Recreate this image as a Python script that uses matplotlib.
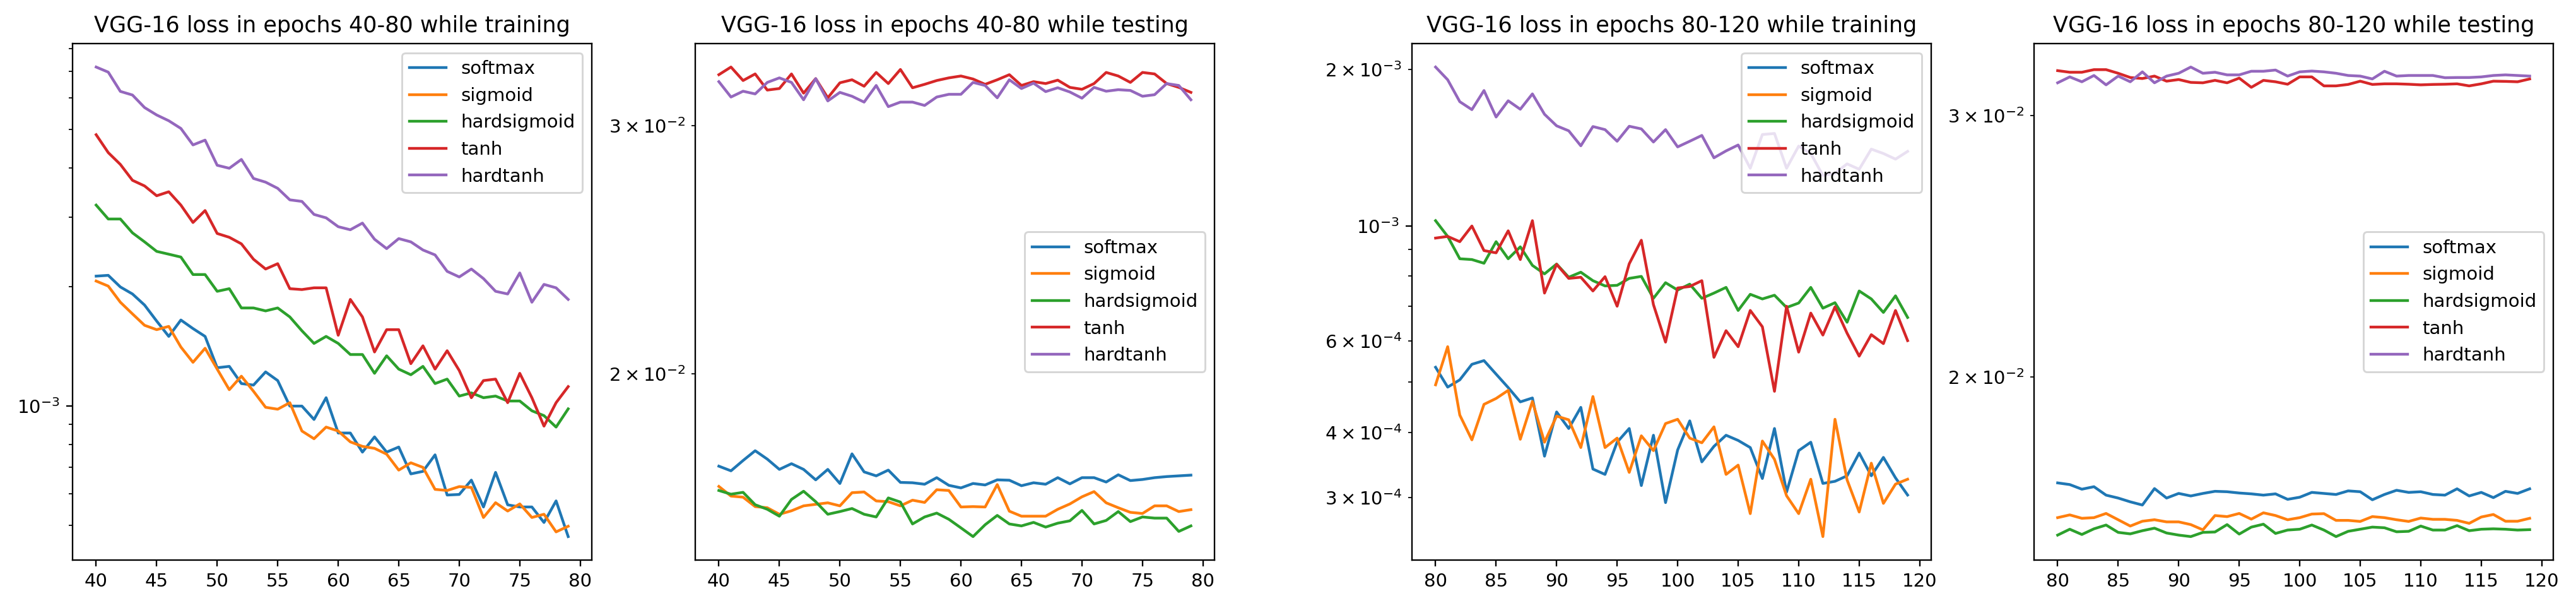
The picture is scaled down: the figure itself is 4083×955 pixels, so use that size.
import numpy as np
import matplotlib
matplotlib.use("Agg")
import matplotlib.pyplot as plt

labels = ["softmax", "sigmoid", "hardsigmoid", "tanh", "hardtanh"]
epochs_a = np.arange(40, 80)
epochs_b = np.arange(80, 120)

# training loss, epochs 40-80
tr_a_softmax = [2.13e-3, 2.14e-3, 2.00e-3, 1.92e-3, 1.80e-3, 1.64e-3, 1.50e-3, 1.65e-3, 1.57e-3, 1.50e-3,
                1.25e-3, 1.26e-3, 1.14e-3, 1.13e-3, 1.22e-3, 1.16e-3, 1.00e-3, 1.00e-3, 0.925e-3, 1.05e-3,
                0.855e-3, 0.855e-3, 0.765e-3, 0.836e-3, 0.765e-3, 0.788e-3, 0.674e-3, 0.684e-3, 0.753e-3, 0.596e-3,
                0.598e-3, 0.650e-3, 0.556e-3, 0.680e-3, 0.563e-3, 0.556e-3, 0.556e-3, 0.508e-3, 0.576e-3, 0.468e-3]
tr_a_sigmoid = [2.07e-3, 2.01e-3, 1.83e-3, 1.71e-3, 1.60e-3, 1.56e-3, 1.59e-3, 1.41e-3, 1.29e-3, 1.40e-3,
                1.24e-3, 1.10e-3, 1.19e-3, 1.09e-3, 0.993e-3, 0.982e-3, 1.02e-3, 0.865e-3, 0.827e-3, 0.885e-3,
                0.865e-3, 0.812e-3, 0.791e-3, 0.782e-3, 0.756e-3, 0.689e-3, 0.719e-3, 0.700e-3, 0.616e-3, 0.612e-3,
                0.626e-3, 0.623e-3, 0.523e-3, 0.570e-3, 0.543e-3, 0.566e-3, 0.523e-3, 0.533e-3, 0.481e-3, 0.497e-3]
tr_a_hardsigmoid = [3.22e-3, 2.97e-3, 2.97e-3, 2.74e-3, 2.60e-3, 2.46e-3, 2.42e-3, 2.38e-3, 2.15e-3, 2.15e-3,
                    1.95e-3, 1.98e-3, 1.77e-3, 1.77e-3, 1.74e-3, 1.77e-3, 1.68e-3, 1.55e-3, 1.44e-3, 1.50e-3,
                    1.44e-3, 1.35e-3, 1.35e-3, 1.21e-3, 1.34e-3, 1.24e-3, 1.20e-3, 1.26e-3, 1.14e-3, 1.17e-3,
                    1.06e-3, 1.08e-3, 1.05e-3, 1.06e-3, 1.03e-3, 1.03e-3, 0.973e-3, 0.946e-3, 0.885e-3, 0.984e-3]
tr_a_tanh = [4.85e-3, 4.37e-3, 4.08e-3, 3.72e-3, 3.60e-3, 3.40e-3, 3.48e-3, 3.22e-3, 2.91e-3, 3.12e-3,
             2.73e-3, 2.67e-3, 2.57e-3, 2.35e-3, 2.22e-3, 2.29e-3, 1.98e-3, 1.97e-3, 1.99e-3, 1.99e-3,
             1.51e-3, 1.86e-3, 1.68e-3, 1.37e-3, 1.56e-3, 1.56e-3, 1.28e-3, 1.42e-3, 1.24e-3, 1.38e-3,
             1.23e-3, 1.05e-3, 1.16e-3, 1.17e-3, 1.02e-3, 1.21e-3, 1.05e-3, 0.890e-3, 1.02e-3, 1.12e-3]
tr_a_hardtanh = [7.19e-3, 6.98e-3, 6.24e-3, 6.11e-3, 5.68e-3, 5.44e-3, 5.26e-3, 5.03e-3, 4.57e-3, 4.70e-3,
                 4.06e-3, 3.99e-3, 4.20e-3, 3.76e-3, 3.68e-3, 3.55e-3, 3.32e-3, 3.29e-3, 3.05e-3, 2.99e-3,
                 2.84e-3, 2.79e-3, 2.90e-3, 2.64e-3, 2.50e-3, 2.65e-3, 2.60e-3, 2.48e-3, 2.41e-3, 2.19e-3,
                 2.12e-3, 2.22e-3, 2.10e-3, 1.95e-3, 1.92e-3, 2.17e-3, 1.83e-3, 2.03e-3, 1.99e-3, 1.86e-3]

# testing loss, epochs 40-80
te_a_softmax = [0.01720, 0.01707, 0.01736, 0.01764, 0.01740, 0.01711, 0.01727, 0.01711, 0.01682, 0.01711,
                0.01672, 0.01755, 0.01704, 0.01693, 0.01709, 0.01675, 0.01674, 0.01670, 0.01688, 0.01667,
                0.01660, 0.01672, 0.01668, 0.01682, 0.01681, 0.01666, 0.01674, 0.01670, 0.01688, 0.01671,
                0.01688, 0.01688, 0.01676, 0.01696, 0.01680, 0.01683, 0.01688, 0.01691, 0.01693, 0.01695]
te_a_sigmoid = [0.01664, 0.01638, 0.01635, 0.01610, 0.01607, 0.01590, 0.01599, 0.01612, 0.01616, 0.01620,
                0.01612, 0.01647, 0.01649, 0.01625, 0.01623, 0.01612, 0.01627, 0.01621, 0.01655, 0.01653,
                0.01609, 0.01610, 0.01609, 0.01669, 0.01598, 0.01585, 0.01585, 0.01585, 0.01603, 0.01617,
                0.01636, 0.01650, 0.01620, 0.01607, 0.01595, 0.01592, 0.01612, 0.01612, 0.01597, 0.01602]
te_a_hardsigmoid = [0.01653, 0.01643, 0.01648, 0.01615, 0.01603, 0.01585, 0.01629, 0.01651, 0.01623, 0.01590,
                    0.01597, 0.01605, 0.01590, 0.01583, 0.01633, 0.01622, 0.01565, 0.01583, 0.01593, 0.01577,
                    0.01555, 0.01533, 0.01563, 0.01587, 0.01565, 0.01560, 0.01569, 0.01557, 0.01567, 0.01573,
                    0.01600, 0.01565, 0.01574, 0.01597, 0.01571, 0.01583, 0.01580, 0.01580, 0.01546, 0.01560]
te_a_tanh = [0.03262, 0.03303, 0.03231, 0.03266, 0.03181, 0.03189, 0.03266, 0.03165, 0.03241, 0.03141,
             0.03219, 0.03235, 0.03201, 0.03274, 0.03215, 0.03290, 0.03193, 0.03211, 0.03231, 0.03245,
             0.03255, 0.03239, 0.03211, 0.03235, 0.03262, 0.03205, 0.03225, 0.03215, 0.03233, 0.03195,
             0.03185, 0.03215, 0.03274, 0.03255, 0.03221, 0.03274, 0.03266, 0.03215, 0.03195, 0.03169]
te_a_hardtanh = [0.03225, 0.03145, 0.03175, 0.03161, 0.03221, 0.03245, 0.03221, 0.03131, 0.03241, 0.03125,
                 0.03169, 0.03149, 0.03119, 0.03205, 0.03096, 0.03119, 0.03119, 0.03102, 0.03145, 0.03159,
                 0.03159, 0.03221, 0.03205, 0.03141, 0.03235, 0.03189, 0.03217, 0.03173, 0.03193, 0.03171,
                 0.03139, 0.03195, 0.03175, 0.03183, 0.03179, 0.03149, 0.03157, 0.03215, 0.03205, 0.03131]

# training loss, epochs 80-120
tr_b_softmax = [0.534e-3, 0.489e-3, 0.505e-3, 0.541e-3, 0.550e-3, 0.518e-3, 0.488e-3, 0.458e-3, 0.466e-3, 0.360e-3,
                0.438e-3, 0.407e-3, 0.447e-3, 0.340e-3, 0.332e-3, 0.383e-3, 0.407e-3, 0.316e-3, 0.395e-3, 0.293e-3,
                0.370e-3, 0.421e-3, 0.351e-3, 0.376e-3, 0.395e-3, 0.386e-3, 0.374e-3, 0.326e-3, 0.407e-3, 0.307e-3,
                0.369e-3, 0.383e-3, 0.319e-3, 0.322e-3, 0.330e-3, 0.365e-3, 0.330e-3, 0.358e-3, 0.327e-3, 0.303e-3]
tr_b_sigmoid = [0.494e-3, 0.585e-3, 0.432e-3, 0.387e-3, 0.453e-3, 0.465e-3, 0.482e-3, 0.388e-3, 0.459e-3, 0.383e-3,
                0.430e-3, 0.423e-3, 0.374e-3, 0.469e-3, 0.374e-3, 0.390e-3, 0.335e-3, 0.394e-3, 0.369e-3, 0.416e-3,
                0.424e-3, 0.390e-3, 0.382e-3, 0.410e-3, 0.332e-3, 0.346e-3, 0.279e-3, 0.385e-3, 0.355e-3, 0.302e-3,
                0.279e-3, 0.325e-3, 0.252e-3, 0.424e-3, 0.324e-3, 0.281e-3, 0.349e-3, 0.292e-3, 0.318e-3, 0.325e-3]
tr_b_hardsigmoid = [1.023e-3, 0.954e-3, 0.864e-3, 0.861e-3, 0.847e-3, 0.932e-3, 0.864e-3, 0.911e-3, 0.839e-3, 0.808e-3,
                    0.844e-3, 0.796e-3, 0.814e-3, 0.784e-3, 0.766e-3, 0.768e-3, 0.792e-3, 0.799e-3, 0.725e-3, 0.777e-3,
                    0.752e-3, 0.772e-3, 0.725e-3, 0.742e-3, 0.761e-3, 0.687e-3, 0.738e-3, 0.723e-3, 0.735e-3, 0.696e-3,
                    0.710e-3, 0.761e-3, 0.694e-3, 0.711e-3, 0.652e-3, 0.749e-3, 0.723e-3, 0.681e-3, 0.733e-3, 0.666e-3]
tr_b_tanh = [0.947e-3, 0.954e-3, 0.932e-3, 0.999e-3, 0.896e-3, 0.887e-3, 0.978e-3, 0.861e-3, 1.023e-3, 0.742e-3,
             0.843e-3, 0.792e-3, 0.796e-3, 0.749e-3, 0.798e-3, 0.700e-3, 0.845e-3, 0.938e-3, 0.705e-3, 0.597e-3,
             0.759e-3, 0.764e-3, 0.784e-3, 0.558e-3, 0.628e-3, 0.585e-3, 0.687e-3, 0.639e-3, 0.480e-3, 0.700e-3,
             0.571e-3, 0.679e-3, 0.616e-3, 0.698e-3, 0.621e-3, 0.561e-3, 0.617e-3, 0.593e-3, 0.687e-3, 0.601e-3]
tr_b_hardtanh = [2.022e-3, 1.911e-3, 1.734e-3, 1.674e-3, 1.822e-3, 1.620e-3, 1.741e-3, 1.677e-3, 1.795e-3, 1.640e-3,
                 1.558e-3, 1.524e-3, 1.426e-3, 1.553e-3, 1.532e-3, 1.455e-3, 1.555e-3, 1.537e-3, 1.450e-3, 1.532e-3,
                 1.419e-3, 1.455e-3, 1.493e-3, 1.352e-3, 1.394e-3, 1.431e-3, 1.291e-3, 1.499e-3, 1.506e-3, 1.291e-3,
                 1.424e-3, 1.378e-3, 1.250e-3, 1.262e-3, 1.316e-3, 1.285e-3, 1.405e-3, 1.378e-3, 1.344e-3, 1.391e-3]

# testing loss, epochs 80-120
te_b_softmax = [0.016974, 0.016930, 0.016809, 0.016874, 0.016655, 0.016580, 0.016483, 0.016402, 0.016825, 0.016580,
                0.016699, 0.016634, 0.016699, 0.016754, 0.016743, 0.016710, 0.016688, 0.016655, 0.016688, 0.016547,
                0.016601, 0.016726, 0.016699, 0.016672, 0.016765, 0.016743, 0.016536, 0.016672, 0.016781, 0.016726,
                0.016743, 0.016672, 0.016655, 0.016819, 0.016634, 0.016726, 0.016591, 0.016754, 0.016699, 0.016819]
te_b_sigmoid = [0.016084, 0.016153, 0.016068, 0.016084, 0.016189, 0.016032, 0.015876, 0.015995, 0.016032, 0.015979,
                0.015979, 0.015912, 0.015783, 0.016137, 0.016110, 0.016189, 0.016047, 0.016205, 0.016137, 0.016032,
                0.016084, 0.016174, 0.016184, 0.016016, 0.016016, 0.015990, 0.016110, 0.016084, 0.016032, 0.015990,
                0.016074, 0.016042, 0.016042, 0.016016, 0.015943, 0.016100, 0.016163, 0.015995, 0.015995, 0.016068]
te_b_hardsigmoid = [0.015655, 0.015798, 0.015670, 0.015808, 0.015901, 0.015721, 0.015685, 0.015762, 0.015824, 0.015706,
                    0.015655, 0.015619, 0.015721, 0.015731, 0.015912, 0.015680, 0.015850, 0.015922, 0.015695, 0.015778,
                    0.015798, 0.015901, 0.015778, 0.015619, 0.015747, 0.015798, 0.015850, 0.015834, 0.015736, 0.015747,
                    0.015876, 0.015778, 0.015778, 0.015886, 0.015762, 0.015798, 0.015808, 0.015798, 0.015778, 0.015788]
te_b_tanh = [0.03215, 0.03207, 0.03207, 0.03220, 0.03220, 0.03202, 0.03181, 0.03176, 0.03188, 0.03163,
             0.03171, 0.03157, 0.03155, 0.03167, 0.03155, 0.03178, 0.03133, 0.03167, 0.03160, 0.03148,
             0.03184, 0.03184, 0.03140, 0.03140, 0.03147, 0.03163, 0.03147, 0.03150, 0.03150, 0.03148,
             0.03145, 0.03147, 0.03148, 0.03150, 0.03140, 0.03150, 0.03163, 0.03162, 0.03160, 0.03174]
te_b_hardtanh = [0.03155, 0.03184, 0.03160, 0.03191, 0.03145, 0.03188, 0.03160, 0.03209, 0.03155, 0.03188,
                 0.03202, 0.03233, 0.03202, 0.03207, 0.03194, 0.03194, 0.03212, 0.03212, 0.03218, 0.03188,
                 0.03209, 0.03213, 0.03209, 0.03202, 0.03191, 0.03188, 0.03174, 0.03212, 0.03188, 0.03191,
                 0.03191, 0.03191, 0.03180, 0.03181, 0.03181, 0.03184, 0.03191, 0.03194, 0.03191, 0.03188]

panels = [
    ("VGG-16 loss in epochs 40-80 while training", epochs_a,
     [tr_a_softmax, tr_a_sigmoid, tr_a_hardsigmoid, tr_a_tanh, tr_a_hardtanh], "upper right"),
    ("VGG-16 loss in epochs 40-80 while testing", epochs_a,
     [te_a_softmax, te_a_sigmoid, te_a_hardsigmoid, te_a_tanh, te_a_hardtanh], "center right"),
    ("VGG-16 loss in epochs 80-120 while training", epochs_b,
     [tr_b_softmax, tr_b_sigmoid, tr_b_hardsigmoid, tr_b_tanh, tr_b_hardtanh], "upper right"),
    ("VGG-16 loss in epochs 80-120 while testing", epochs_b,
     [te_b_softmax, te_b_sigmoid, te_b_hardsigmoid, te_b_tanh, te_b_hardtanh], "center right"),
]

W, H, DPI = 4083, 955, 210
fig = plt.figure(figsize=(W / DPI, H / DPI), dpi=DPI)

# axes left edges in pixels
lefts = [115, 1102, 2238, 3224]
ax_w = 823
bottom = 1 - 887 / H
height = (887 - 69) / H

for left, (title, x, series, loc) in zip(lefts, panels):
    ax = fig.add_axes([left / W, bottom, ax_w / W, height])
    for ys, name in zip(series, labels):
        ax.plot(x, ys, label=name)
    ax.set_yscale("log")
    ax.set_title(title)
    ax.legend(loc=loc)

fig.savefig("out.png", dpi=DPI)
